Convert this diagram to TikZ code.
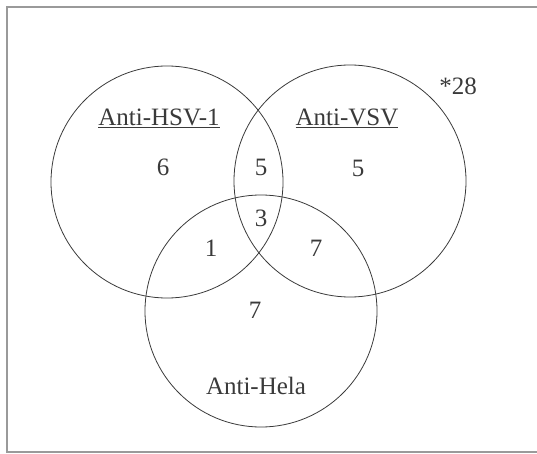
\documentclass[tikz,border=0pt]{standalone}
\usepackage{fontspec}
\setmainfont{Liberation Serif}
\usepackage{xcolor}

\definecolor{inkgray}{HTML}{3A3A3A}
\definecolor{framegray}{HTML}{9A9A9A}

\tikzset{
    setcircle/.style={circle, draw=inkgray, line width=0.8pt, minimum size=232pt, inner sep=0pt},
    setlabel/.style={text=inkgray, font=\fontsize{25}{28}\selectfont, inner sep=0pt},
    count/.style={text=inkgray, font=\fontsize{25}{28}\selectfont, inner sep=0pt}
}

\begin{document}
\begin{tikzpicture}[x=1pt, y=-1pt]
    \useasboundingbox (0,0) rectangle (537,454);
    % open frame
    \draw[framegray, line width=1.2pt] (537,7) -- (7,7) -- (7,452) -- (537,452);

    % the three sets
    \node[setcircle] (hsv)  at (167,182) {};
    \node[setcircle] (vsv)  at (350,181) {};
    \node[setcircle] (hela) at (261,311) {};

    % set names
    \node[setlabel] (hsvname)  at (159,118) {\underline{Anti-HSV-1}};
    \node[setlabel] (vsvname)  at (347,118) {\underline{Anti-VSV}};
    \node[setlabel] (helaname) at (256,386) {Anti-Hela};
    \node[setlabel] (total)    at (458,86)  {*28};

    % counts per region
    \node[count] (nhsv)     at (163,167) {6};
    \node[count] (nhsvvsv)  at (261,167) {5};
    \node[count] (nvsv)     at (358,168) {5};
    \node[count] (nall)     at (261,218) {3};
    \node[count] (nhsvhela) at (211,248) {1};
    \node[count] (nvsvhela) at (316,248) {7};
    \node[count] (nhela)    at (255,310) {7};
\end{tikzpicture}
\end{document}
